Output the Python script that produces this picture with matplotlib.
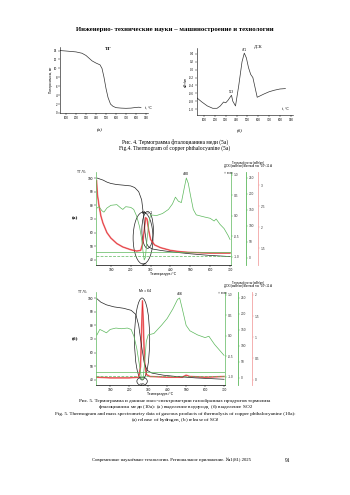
import numpy as np
import matplotlib.pyplot as plt
from matplotlib.patches import Ellipse

plt.rcParams['font.family'] = ['Liberation Serif', 'DejaVu Serif']

# --- Рис. 4а: ТГ (потеря массы, мг) ---
tg4_t = [42, 100, 200, 260, 300, 330, 360, 400, 440, 460, 480, 500, 520, 545, 570, 600, 650, 700, 750, 800, 830, 850]
tg4_m = [14.0, 13.9, 13.7, 13.4, 12.9, 12.3, 11.7, 11.2, 10.8, 10.0, 8.0, 5.5, 3.5, 2.0, 1.5, 1.2, 1.1, 1.05, 1.1, 1.25, 1.3, 1.2]

# --- Рис. 4б: ДСК ---
dsc4_t = [36, 80, 130, 180, 220, 250, 280, 300, 320, 340, 353, 365, 390, 420, 450, 471, 490, 510, 530, 550, 570, 590, 650, 700, 750, 800, 850]
dsc4_v = [-0.72, -0.82, -0.92, -0.98, -0.98, -0.92, -0.82, -0.84, -0.78, -0.7, -0.65, -0.8, -0.92, -0.4, 0.2, 0.42, 0.3, 0.05, -0.12, -0.2, -0.45, -0.7, -0.62, -0.56, -0.52, -0.49, -0.48]

# --- Рис. 5а (Mr = 1) ---
tg5a_t = [30, 40, 60, 80, 100, 130, 160, 200, 220, 240, 255, 265, 272, 280, 290, 310, 350, 400, 500, 600, 700]
tg5a_v = [100, 99.5, 98.5, 97, 96, 95.2, 94.8, 94.2, 93, 90, 84, 72, 60, 52, 49.5, 48, 47, 46, 44.5, 43.3, 42.5]
dsc5a_t = [30, 40, 55, 65, 80, 100, 130, 150, 160, 175, 200, 215, 230, 245, 255, 262, 268, 274, 282, 292, 300, 330, 360, 390, 410,
           425, 440, 455, 470, 480, 490, 500, 515, 530, 570, 600, 620, 630, 650, 670, 690, 700]
dsc5a_v = [78, 79, 76, 75, 78, 80, 80.5, 78, 77, 79, 78.5, 77, 72, 64, 55, 46, 40, 42, 55, 68, 73, 72.5, 74, 77, 81,
           86, 83, 82, 93, 100, 96, 88, 77, 73, 71.5, 70.5, 68.5, 70, 66, 63, 58, 55]
ion5a_t = [28, 32, 40, 50, 60, 80, 100, 130, 160, 200, 230, 250, 260, 268, 275, 282, 290, 300, 320, 350, 400, 450, 500, 600, 700]
ion5a_v = [98, 88, 80, 72, 67, 60, 56, 52, 49.5, 47.5, 46.5, 47, 52, 62, 71, 70, 62, 55, 51, 49, 47, 46, 45.5, 45, 45]

# --- Рис. 5б (Mr = 64) ---
tg5b_t = [30, 50, 80, 120, 170, 210, 235, 250, 265, 280, 295, 320, 380, 450, 550, 700]
tg5b_v = [99.5, 97, 95, 93.5, 92.5, 91, 88, 80, 65, 52, 47, 45, 43.5, 42.5, 41.5, 40.5]
dsc5b_t = [30, 45, 60, 80, 100, 130, 160, 190, 210, 225, 240, 255, 265, 272, 280, 290, 300, 330, 370, 400, 430, 455, 466,
           480, 500, 520, 560, 600, 620, 650, 700]
dsc5b_v = [73, 77, 76, 74.5, 77, 78, 77.5, 78, 77, 72, 63, 50, 41, 40, 50, 68, 73, 74, 80, 85, 92, 99, 100,
           92, 80, 76, 73, 71, 72, 66, 58]
ion5b_t = [30, 100, 200, 250, 260, 265, 270, 275, 280, 290, 310, 400, 480, 500, 520, 600, 700]
ion5b_v = [42, 41.5, 41.5, 42, 50, 75, 98, 80, 55, 44, 42.5, 42, 42, 43.5, 42.5, 42, 42.5]

W, H = 350, 495
GREEN = '#5cb85c'
RED = '#e3262b'
PINK = '#f2a3a3'
SANS = 'Liberation Sans'

fig = plt.figure(figsize=(3.5, 4.95), dpi=100)
fig.patch.set_facecolor('white')


def box(x0, y0, x1, y1):
    return fig.add_axes([x0 / W, 1 - y1 / H, (x1 - x0) / W, (y1 - y0) / H])


def txt(x, y, s, **kw):
    fig.text(x / W, 1 - y / H, s, **kw)


def small_ticks(ax, size=2.3):
    ax.tick_params(labelsize=size, length=1.2, width=0.3, pad=0.8)
    for lab in ax.get_xticklabels() + ax.get_yticklabels():
        lab.set_family(SANS)


# header
txt(175, 29, 'Инженерно- технические науки – машиностроение и технологии', ha='center', va='center',
    fontsize=4.9, weight='bold')

# ---------- Рис. 4а ----------
ax = box(60, 47, 148, 113)
ax.plot(tg4_t, tg4_m, color='#333333', lw=0.5)
ax.set_xlim(40, 920)
ax.set_ylim(0, 14.8)
ax.set_xticks(range(100, 1000, 100))
ax.set_yticks(range(0, 16, 2))
for s in ['top', 'right']:
    ax.spines[s].set_visible(False)
for s in ['left', 'bottom']:
    ax.spines[s].set_linewidth(0.4)
small_ticks(ax, 2.1)
ax.set_ylabel('Потеря массы, мг', fontsize=2.3, family=SANS, labelpad=1)
txt(148, 109, 't, °C', fontsize=2.4, family=SANS, ha='center')
txt(108, 50, 'ТГ', fontsize=3.8, weight='bold', ha='center')
txt(100, 131, '(а)', fontsize=3.6, style='italic', ha='center')

# ---------- Рис. 4б ----------
ax = box(197, 48, 293, 115)
ax.plot(dsc4_t, dsc4_v, color='#333333', lw=0.5)
ax.set_xlim(35, 920)
ax.set_ylim(-1.15, 0.55)
ax.set_xticks(range(100, 1000, 100))
ax.set_yticks(np.arange(-1.0, 0.5, 0.2))
ax.set_yticklabels(['-1.0', '-0.8', '-0.6', '-0.4', '-0.2', '0.0', '0.2', '0.4'])
for s in ['top', 'right']:
    ax.spines[s].set_visible(False)
for s in ['left', 'bottom']:
    ax.spines[s].set_linewidth(0.4)
small_ticks(ax, 2.1)
ax.set_ylabel('мВт/мг', fontsize=2.3, family=SANS, labelpad=1)
ax.text(353, -0.62, '353', fontsize=2.2, family=SANS, ha='center', va='bottom')
ax.text(471, 0.44, '471', fontsize=2.2, family=SANS, ha='center', va='bottom')
txt(285, 110, 't, °C', fontsize=2.4, family=SANS, ha='center')
txt(258, 48, 'ДСК', fontsize=3.2, ha='center')
txt(240, 131, '(б)', fontsize=3.6, style='italic', ha='center')

txt(175, 142, 'Рис. 4. Термограмма фталоцианина меди (5а)', fontsize=4.0, ha='center', va='center')
txt(175, 148, 'Fig.4. Thermogram of copper phthalocyanine (5a)', fontsize=4.0, ha='center', va='center')


# ---------- Рис. 5 (а), (б) ----------
def panel(top, bot, tg_t, tg_v, dsc_t, dsc_v, ion_t, ion_v, red_ticks, red_lim, g1x, g2x, rx, label, mr, peak):
    ax = box(96, top, g1x, bot)
    ax.plot(ion_t, ion_v, color=RED, lw=1.2, alpha=0.55)
    ax.plot(ion_t, ion_v, color=RED, lw=0.4)
    ax.plot(tg_t, tg_v, color='#222222', lw=0.5)
    ax.plot(dsc_t, dsc_v, color=GREEN, lw=0.5)
    ax.axhline(45.5, color=GREEN, lw=0.5)
    ax.axhline(43.2, color=GREEN, lw=0.5, ls=(0, (4, 2)))
    ax.set_xlim(25, 705)
    ax.set_ylim(36.3, 104.4)
    ax.set_xticks(range(100, 800, 100))
    ax.set_yticks(range(40, 110, 10))
    ax.spines['top'].set_visible(False)
    ax.spines['left'].set_color(GREEN)
    ax.spines['right'].set_color(GREEN)
    for s in ax.spines.values():
        s.set_linewidth(0.5)
    small_ticks(ax)
    ax.set_xlabel('Температура /°C', fontsize=2.4, family=SANS, labelpad=0.5)
    ax.text(270, 37.5, '270', fontsize=2.3, family=SANS, ha='center', va='top')
    ax.text(peak, 101.5, str(peak), fontsize=2.6, family=SANS, ha='center', va='bottom')
    ax.text(282, 73 if mr == 1 else 104, 'Mr = %d' % mr, fontsize=2.5, family=SANS, ha='center', va='bottom')
    ax.text(-70, 104.5, 'ТГ /%', fontsize=2.3, family=SANS, ha='left', va='center')
    if mr == 1:
        ax.add_patch(Ellipse((262, 56), 100, 38, fill=False, lw=0.5, color='#222222'))
        ax.add_patch(Ellipse((285, 62), 58, 27, fill=False, lw=0.5, color='#222222'))
    else:
        ax.add_patch(Ellipse((268, 70), 80, 60, fill=False, lw=0.5, color='#222222'))
        ax.add_patch(Ellipse((268, 39), 55, 6, fill=False, lw=0.5, color='#222222'))

    w = g1x - 96
    g1 = ax.twinx()
    g1.set_ylim(-1.195, 1.07)
    g1.set_yticks([-1.0, -0.5, 0.0, 0.5, 1.0])
    g1.set_yticklabels(['-1.0', '-0.5', '0.0', '0.5', '1.0'])

    g2 = ax.twinx()
    g2.spines['right'].set_position(('axes', (g2x - 96) / w))
    g2.set_ylim(-21.9, 268.75)
    g2.set_yticks(range(0, 300, 50))

    r = ax.twinx()
    r.spines['right'].set_position(('axes', (rx - 96) / w))
    r.set_ylim(*red_lim)
    r.set_yticks(red_ticks)
    r.set_yticklabels(['%g' % v if v else '0' for v in red_ticks])

    for t, c in [(g1, GREEN), (g2, GREEN), (r, PINK)]:
        for s in ['top', 'left', 'bottom']:
            t.spines[s].set_visible(False)
        t.spines['right'].set_color(c)
        t.spines['right'].set_linewidth(0.6)
        small_ticks(t)
        t.tick_params(axis='y', colors=c, labelcolor='#333333')
    g1.spines['right'].set_visible(False)

    txt(75, (top + bot) / 2, label, fontsize=3.8, weight='bold', ha='center', va='center')
    txt(248, top - 9, 'Тепловой поток (мВт/мг)', fontsize=2.0, family=SANS, ha='center', va='center')
    txt(248, top - 5.5, 'ДСК /(мкВт/мг)/Ионный ток *10^-11 А', fontsize=2.0, family=SANS, ha='center', va='center')
    txt(g1x - 3, top + 1, '↑ экзо', fontsize=1.8, family=['DejaVu Sans'], ha='center', va='center')


panel(172, 265, tg5a_t, tg5a_v, dsc5a_t, dsc5a_v, ion5a_t, ion5a_v,
      [1.5, 2.0, 2.5, 3.0], (1.1, 3.31), 231, 246, 258, '(а)', 1, 480)
panel(292, 385, tg5b_t, tg5b_v, dsc5b_t, dsc5b_v, ion5b_t, ion5b_v,
      [0, 0.5, 1.0, 1.5, 2.0], (-0.13, 2.07), 225, 238, 252, '(б)', 64, 466)

txt(175, 401, 'Рис. 5. Термограмма и данные масс-спектрометрии газообразных продуктов термолиза',
    fontsize=3.7, ha='center', va='center')
txt(175, 407.3, 'фталоцианина меди (10а): (а) выделение водорода, (б) выделение SO$_2$',
    fontsize=3.7, ha='center', va='center')
txt(175, 413.6, 'Fig. 5. Thermogram and mass spectrometry data of gaseous products of thermolysis of copper phthalocyanine (10a):',
    fontsize=3.7, ha='center', va='center')
txt(175, 420, '(a) release of hydrogen, (b) release of SO$_2$', fontsize=3.7, ha='center', va='center')

txt(171, 460, 'Современные наукоёмкие технологии. Региональное приложение. №1(81) 2025',
    fontsize=3.4, ha='center', va='center')
txt(288, 460, '91', fontsize=4.0, ha='center', va='center')

fig.savefig('out.png', dpi=100)
